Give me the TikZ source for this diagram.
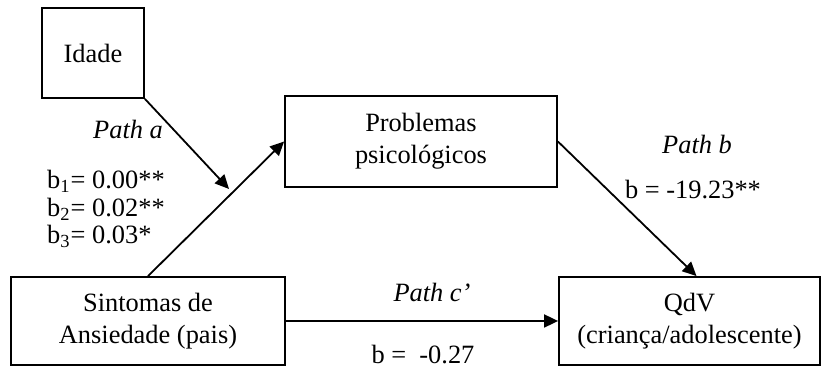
\documentclass[tikz,border=0pt]{standalone}
\usepackage{fontspec}
\setmainfont{Liberation Serif}
\usetikzlibrary{arrows.meta}
\begin{document}
\begin{tikzpicture}[x=0.5pt,y=-0.5pt,
  txt/.style={font=\fontsize{13.2}{16}\selectfont,inner sep=0pt},
  boxnode/.style={draw,line width=0.9pt,align=center,txt},
  conn/.style={line width=0.9pt,-{Triangle[length=7pt,width=6.5pt]}},
  lbl/.style={txt,align=center}]
\useasboundingbox (0,0) rectangle (825,367);
\node[boxnode,minimum width=51pt,minimum height=45pt] (idade) at (93,53) {Idade};
\node[boxnode,minimum width=136pt,minimum height=45.5pt] (prob) at (421,141.5) {Problemas\\psicológicos};
\node[boxnode,minimum width=137pt,minimum height=44pt] (sint) at (148,321) {Sintomas de\\Ansiedade (pais)};
\node[boxnode,minimum width=130.5pt,minimum height=44pt] (qdv) at (689.5,321) {QdV\\(criança/adolescente)};
\coordinate (ta) at (229,189);
\draw[conn] (sint.north) -- (prob.west);
\draw[conn] (idade.south east) -- (ta);
\draw[conn] (prob.east) -- ([xshift=3.5pt]qdv.north);
\draw[conn] (sint.east) -- (qdv.west);
\node[lbl] (pa) at (128,129) {\itshape Path a};
\node[txt,align=left,font=\fontsize{13.2}{13.8}\selectfont] (bl) at (106,209) {b\textsubscript{1}= 0.00**\\b\textsubscript{2}= 0.02**\\b\textsubscript{3}= 0.03*};
\node[lbl] (pb) at (697,144) {\itshape Path b};
\node[lbl] (bb) at (693,190) {b = -19.23**};
\node[lbl] (pc) at (432,292) {\itshape Path c’};
\node[lbl] (bc) at (423,355) {b =\ \ -0.27};
\end{tikzpicture}
\end{document}
